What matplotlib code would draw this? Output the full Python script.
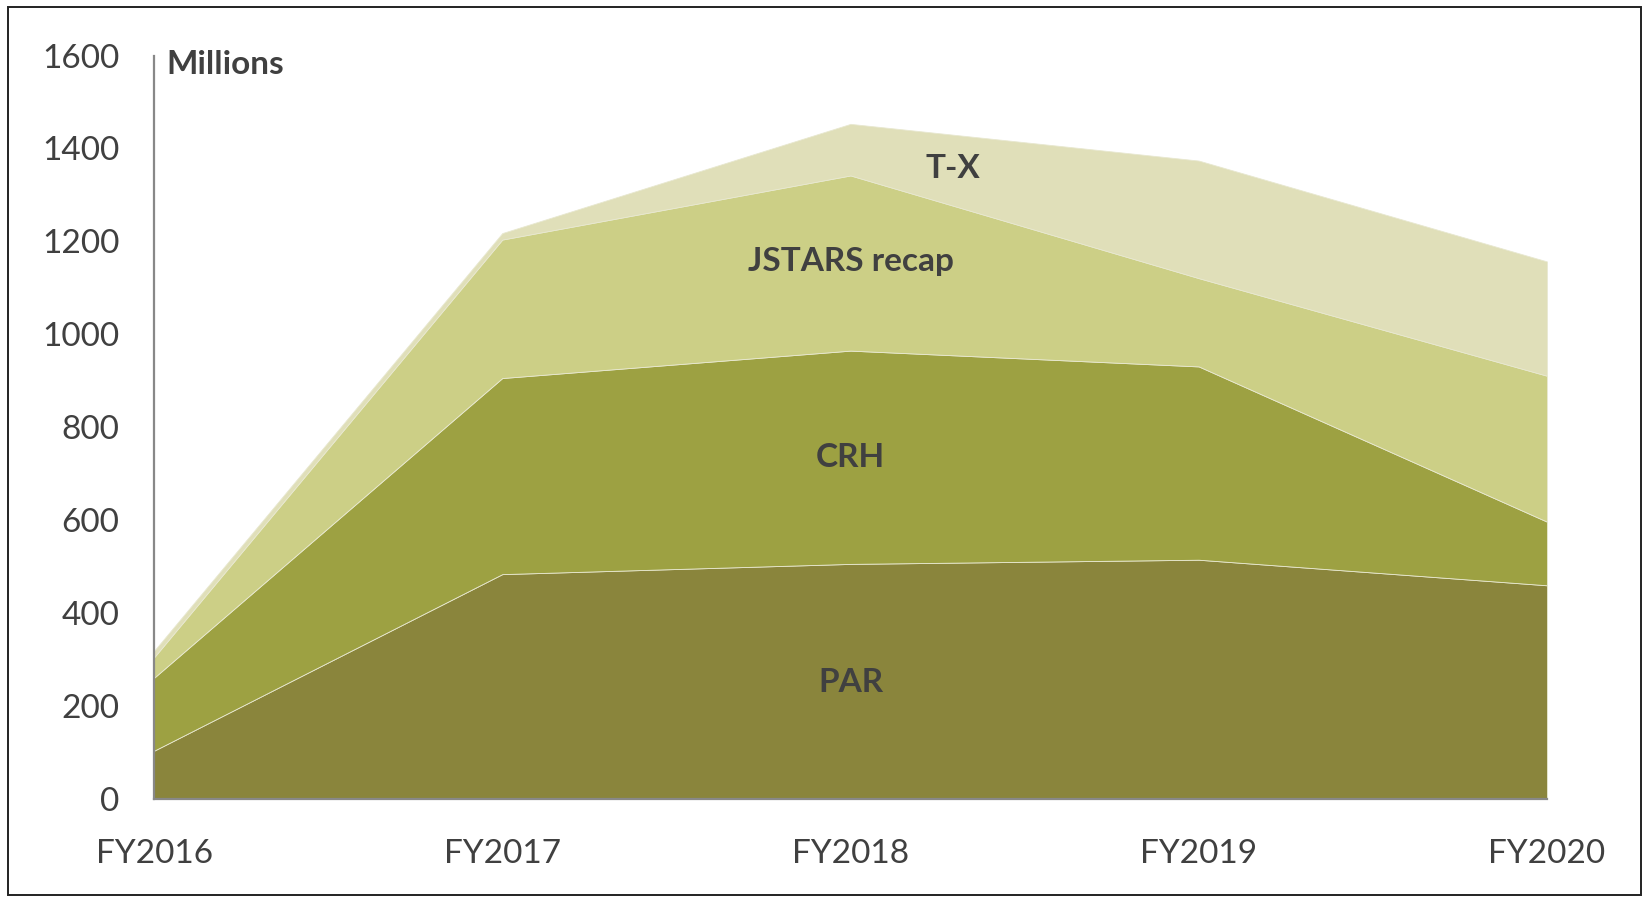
import matplotlib
matplotlib.use("Agg")
import matplotlib.pyplot as plt
import matplotlib.patches as patches

# values (millions)
years = ["FY2016", "FY2017", "FY2018", "FY2019", "FY2020"]
par = [104, 484, 506, 515, 460]
crh = [157, 422, 459, 416, 137]
jstars = [44, 298, 377, 190, 314]
tx = [14, 14, 111, 253, 246]

series_names = ["PAR", "CRH", "JSTARS recap", "T-X"]
colors = ["#8a853c", "#9da142", "#cccf86", "#e0dfb9"]

plt.rcParams['font.family'] = ['Lato', 'DejaVu Sans']
txt = "#404040"

fig = plt.figure(figsize=(16.46, 8.99), dpi=100)
ax = fig.add_axes([0.0936, 0.1112, 0.8462, 0.827])

x = list(range(len(years)))
ax.stackplot(x, par, crh, jstars, tx, colors=colors, labels=series_names,
             edgecolor="#e8e8d0", linewidth=0.6)

ax.set_xlim(0, 4)
ax.set_ylim(0, 1600)
ax.set_xticks(x)
ax.set_xticklabels(years)
ax.set_yticks(range(0, 1601, 200))
ax.tick_params(axis="both", length=0, labelsize=24, colors=txt)
ax.tick_params(axis="x", pad=29)
ax.tick_params(axis="y", pad=25)

for s in ["top", "right"]:
    ax.spines[s].set_visible(False)
for s in ["left", "bottom"]:
    ax.spines[s].set_color("#888888")
    ax.spines[s].set_linewidth(1.6)

# series labels inside areas
ax.text(2.294, 1358, "T-X", ha="center", va="center", fontsize=24, fontweight="bold", color=txt)
ax.text(2, 1156, "JSTARS recap", ha="center", va="center", fontsize=24, fontweight="bold", color=txt)
ax.text(2, 734, "CRH", ha="center", va="center", fontsize=24, fontweight="bold", color=txt)
ax.text(2, 250, "PAR", ha="center", va="center", fontsize=24, fontweight="bold", color=txt)

fig.text(166 / 1646, 1 - 64 / 899, "Millions", ha="left", va="center", fontsize=24,
         fontweight="bold", color=txt)

# outer frame
fig.patches.append(patches.Rectangle((0.005, 0.0044), 0.992, 0.988, transform=fig.transFigure,
                                     fill=False, edgecolor="#222222", linewidth=1.4))

fig.savefig("out.png", dpi=100)
